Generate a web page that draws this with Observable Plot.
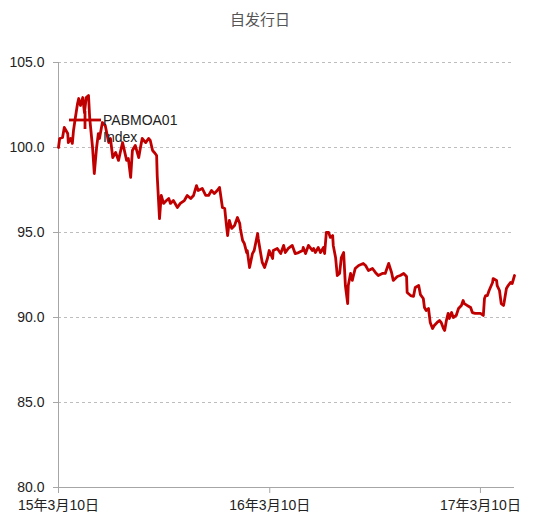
<!DOCTYPE html>
<html><head><meta charset="utf-8">
<script src="https://cdn.jsdelivr.net/npm/d3@7"></script>
<script src="https://cdn.jsdelivr.net/npm/@observablehq/plot@0.6"></script>
<style>
body{margin:0;background:#fff;font-family:"Liberation Sans",Arial,"Noto Sans CJK SC",sans-serif;}
#wrap{position:relative;width:545px;height:513px;overflow:hidden}
#title{position:absolute;top:9px;left:260px;transform:translateX(-50%);font-size:15px;color:#555;font-family:"Noto Sans CJK SC",sans-serif;white-space:nowrap;line-height:20px}
#chart{position:absolute;top:40px;left:0}
#legend{position:absolute;top:0;left:0;pointer-events:none}
</style></head>
<body><div id="wrap"><div id="title"></div><div id="chart"></div>
<svg id="legend" width="545" height="513"></svg></div>
<script>
const titleText = "自发行日";
const seriesName = ["PABMOA01", "Index"];
const tickDates = ["2015-03-10", "2016-03-10", "2017-03-10"];
const tickLabels = ["15年3月10日", "16年3月10日", "17年3月10日"];
const yTicks = [80, 85, 90, 95, 100, 105];
const dates = [
"2015-03-10","2015-03-12","2015-03-17","2015-03-20","2015-03-26","2015-03-27","2015-03-31","2015-04-03","2015-04-05","2015-04-08",
"2015-04-12","2015-04-14","2015-04-17","2015-04-21","2015-04-24","2015-04-27","2015-05-01","2015-05-03","2015-05-08","2015-05-11",
"2015-05-15","2015-05-18","2015-05-20","2015-05-25","2015-05-30","2015-06-05","2015-06-08","2015-06-12","2015-06-17","2015-06-22",
"2015-06-25","2015-06-29","2015-07-01","2015-07-06","2015-07-09","2015-07-13","2015-07-16","2015-07-21","2015-07-27","2015-07-30",
"2015-08-02","2015-08-08","2015-08-13","2015-08-16","2015-08-20","2015-08-23","2015-08-27","2015-08-28","2015-09-01","2015-09-04",
"2015-09-08","2015-09-13","2015-09-17","2015-09-20","2015-09-25","2015-10-02","2015-10-07","2015-10-14","2015-10-19","2015-10-25",
"2015-10-30","2015-11-04","2015-11-07","2015-11-14","2015-11-20","2015-11-25","2015-11-30","2015-12-05","2015-12-10","2015-12-14",
"2015-12-19","2015-12-23","2015-12-26","2015-12-28","2015-12-31","2016-01-04","2016-01-09","2016-01-14","2016-01-18","2016-01-19",
"2016-01-23","2016-01-26","2016-01-30","2016-01-31","2016-02-04","2016-02-09","2016-02-12","2016-02-18","2016-02-19","2016-02-23",
"2016-02-26","2016-03-01","2016-03-06","2016-03-09","2016-03-15","2016-03-16","2016-03-23","2016-03-29","2016-04-03","2016-04-06",
"2016-04-11","2016-04-18","2016-04-23","2016-04-29","2016-05-06","2016-05-07","2016-05-11","2016-05-16","2016-05-23","2016-05-25",
"2016-05-28","2016-06-02","2016-06-06","2016-06-11","2016-06-13","2016-06-16","2016-06-20","2016-06-23","2016-06-27","2016-06-28",
"2016-07-02","2016-07-05","2016-07-09","2016-07-12","2016-07-16","2016-07-17","2016-07-19","2016-07-23","2016-07-24","2016-07-28",
"2016-07-31","2016-08-02","2016-08-05","2016-08-11","2016-08-19","2016-08-23","2016-08-28","2016-09-04","2016-09-09","2016-09-14",
"2016-09-21","2016-09-26","2016-10-02","2016-10-07","2016-10-10","2016-10-17","2016-10-22","2016-10-28","2016-11-02","2016-11-03",
"2016-11-09","2016-11-14","2016-11-17","2016-11-23","2016-11-26","2016-12-01","2016-12-03","2016-12-06","2016-12-10","2016-12-13",
"2016-12-17","2016-12-20","2016-12-25","2016-12-29","2017-01-01","2017-01-05","2017-01-07","2017-01-10","2017-01-13","2017-01-15",
"2017-01-19","2017-01-22","2017-01-27","2017-01-31","2017-02-05","2017-02-08","2017-02-10","2017-02-15","2017-02-21","2017-02-24",
"2017-03-01","2017-03-10","2017-03-15","2017-03-17","2017-03-19","2017-03-22","2017-03-25","2017-03-31","2017-04-01","2017-04-07",
"2017-04-08","2017-04-12","2017-04-15","2017-04-19","2017-04-20","2017-04-24","2017-04-27","2017-05-01","2017-05-04","2017-05-08"
];
const values = [
100.0,100.53,100.59,101.18,100.82,100.29,100.53,100.24,101.0,101.71,
102.59,102.88,102.47,102.94,102.06,102.94,103.06,101.76,100.0,98.47,
100.0,100.82,100.53,101.47,101.29,100.29,100.53,99.41,99.71,99.24,
99.71,100.29,100.0,99.24,99.35,98.24,99.82,100.12,99.41,100.0,
100.53,100.29,100.53,100.41,99.82,99.71,99.53,98.35,95.82,97.18,
96.71,96.88,97.0,96.71,96.88,96.47,96.71,96.88,97.18,97.0,
97.18,97.76,97.47,97.59,97.18,97.18,97.47,97.29,97.47,97.65,
96.47,96.41,95.41,94.82,95.71,95.24,95.41,95.88,95.53,95.24,
94.53,94.35,93.82,93.94,92.94,93.76,93.94,94.94,94.65,93.82,
93.24,92.94,93.47,93.94,93.47,93.94,94.06,93.76,94.24,93.82,
94.06,94.24,93.76,93.82,93.94,94.12,93.76,94.24,93.94,94.06,
93.82,94.12,93.82,94.12,93.76,95.0,95.0,94.71,94.82,94.24,
93.53,92.47,92.59,93.53,93.82,93.18,91.88,90.82,91.88,92.59,
92.18,92.47,92.88,93.06,93.18,93.06,92.76,92.88,92.65,92.47,
92.59,92.59,93.18,92.65,92.18,92.41,92.47,92.59,92.41,91.47,
91.29,91.24,91.76,91.88,91.35,91.12,90.59,90.41,90.53,89.71,
89.35,89.53,89.71,89.82,89.71,89.35,89.24,89.82,90.24,89.94,
90.29,90.0,90.12,90.53,90.71,91.0,90.82,90.71,90.59,90.29,
90.24,90.24,90.12,91.12,91.29,91.29,91.59,92.06,92.29,92.18,
91.88,91.59,90.82,90.71,90.88,91.71,91.88,92.06,92.0,92.47
];
const lineColor = "#c00000";
const data = dates.map((d, i) => ({date: new Date(d), value: values[i]}));
const xStart = new Date(dates[0]);
const xEnd = new Date(dates[dates.length - 1]);
const labelFor = d => tickLabels[tickDates.indexOf(d.toISOString().slice(0, 10))];

document.getElementById("title").textContent = titleText;

const chart = Plot.plot({
  width: 545, height: 473,
  marginTop: 22, marginBottom: 26, marginLeft: 58, marginRight: 31,
  style: {fontSize: "14px", fontFamily: '"Liberation Sans", Arial, "Noto Sans CJK SC", sans-serif', color: "#222", background: "white", overflow: "visible"},
  x: {type: "utc", domain: [xStart, xEnd]},
  y: {domain: [80, 105]},
  marks: [
    Plot.gridY(yTicks.filter(v => v > 80), {stroke: "#bdbdbd", strokeOpacity: 1, strokeDasharray: "3,3"}),
    Plot.ruleY([80], {stroke: "#a6a6a6", strokeWidth: 1}),
    Plot.ruleX([xStart], {y1: 80, y2: 105, stroke: "#a6a6a6", strokeWidth: 1}),
    Plot.axisY(yTicks, {tickSize: 5, tickPadding: 9, tickFormat: d => d.toFixed(1), stroke: "#a6a6a6", label: null, fill: "#222"}),
    Plot.axisX(tickDates.map(d => new Date(d)), {tickSize: 6, tickPadding: 7, tickFormat: labelFor, stroke: "#a6a6a6", label: null, fill: "#222"}),
    Plot.lineY(data, {x: "date", y: "value", stroke: lineColor, strokeWidth: 2.8, strokeLinejoin: "round"})
  ]
});
document.getElementById("chart").appendChild(chart);

// legend
const lg = d3.select("#legend");
lg.append("line").attr("x1", 69).attr("x2", 101).attr("y1", 120).attr("y2", 120).attr("stroke", lineColor).attr("stroke-width", 2.8);
lg.append("line").attr("x1", 85).attr("x2", 85).attr("y1", 111).attr("y2", 129).attr("stroke", lineColor).attr("stroke-width", 2.8);
const lt = lg.append("text").attr("x", 103).attr("y", 125).attr("font-size", 14).attr("fill", "#222")
  .attr("font-family", '"Liberation Sans", Arial, sans-serif');
seriesName.forEach((s, i) => lt.append("tspan").attr("x", 103).attr("dy", i === 0 ? 0 : 17).text(s));
</script></body></html>
